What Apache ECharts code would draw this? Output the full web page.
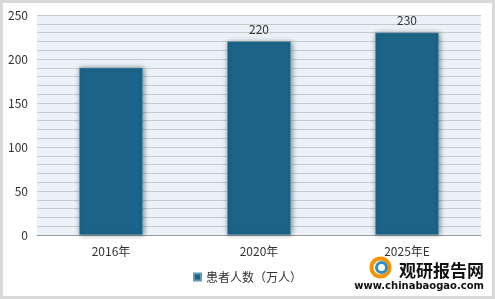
<!DOCTYPE html>
<html><head><meta charset="utf-8">
<script src="https://cdn.jsdelivr.net/npm/echarts@6/dist/echarts.min.js"></script>
<style>html,body{margin:0;padding:0;background:#fff}#c{width:495px;height:299px;box-sizing:border-box;border:3px solid #d9d9d9;}</style>
</head><body><div id="c"></div>
<script>
const categories = ['2016年', '2020年', '2025年E'];
const values = [190, 220, 230];
const showLabel = [false, true, true];
const seriesName = '患者人数（万人）';
const yTicks = [0, 50, 100, 150, 200, 250];

const chart = echarts.init(document.getElementById('c'));
chart.setOption({
  animation: false,
  textStyle: { fontFamily: '"Noto Sans CJK SC", "DejaVu Sans", sans-serif' },
  grid: { left: 34, right: 11, top: 12, bottom: 61, containLabel: false },
  xAxis: {
    type: 'category', data: categories,
    axisLine: { lineStyle: { color: '#999' } },
    axisTick: { show: false },
    axisLabel: { color: '#333', fontSize: 12, margin: 10 }
  },
  yAxis: {
    type: 'value', min: yTicks[0], max: yTicks[yTicks.length - 1], interval: 50,
    axisLine: { show: false }, axisTick: { show: false },
    axisLabel: { color: '#333', fontSize: 12, margin: 9 },
    splitLine: { lineStyle: { color: '#c9c9c9', width: 1 } },
    minorTick: { show: false, splitNumber: 5 },
    minorSplitLine: { show: true, lineStyle: { color: '#c9c9c9', width: 1 } },
    splitArea: { show: true, areaStyle: { color: ['#eaf1f8', '#eaf1f8'] } }
  },
  legend: {
    bottom: 8, left: 'center', itemWidth: 7, itemHeight: 7, icon: 'rect',
    textStyle: { color: '#333', fontSize: 12 }, itemGap: 4
  },
  series: [{
    name: seriesName, type: 'bar', barWidth: '43%',
    data: values.map((v, i) => ({ value: v, label: { show: showLabel[i] } })),
    itemStyle: { color: '#1b6488', borderColor: '#5d9ab6', borderWidth: 0.6,
      shadowColor: 'rgba(0,0,0,0.4)', shadowBlur: 5, shadowOffsetX: 1, shadowOffsetY: 0 },
    label: { position: 'top', color: '#333', fontSize: 12, distance: 6 }
  }],
  graphic: [
    { type: 'text', right: 8, bottom: 17, style: { text: '观研报告网', font: 'bold 17px "Noto Sans CJK SC", sans-serif', fill: '#111' } },
    { type: 'text', right: 8, bottom: 5, style: { text: 'www.chinabaogao.com', font: 'bold 10px "DejaVu Sans", sans-serif', fill: '#111' } },
    { type: 'circle', right: 100, bottom: 17, shape: { r: 9 }, style: { fill: 'none', stroke: '#f29400', lineWidth: 4 } },
    { type: 'circle', right: 103, bottom: 21, shape: { r: 5 }, style: { fill: 'none', stroke: '#2a8fc7', lineWidth: 3 } }
  ]
});
</script></body></html>
